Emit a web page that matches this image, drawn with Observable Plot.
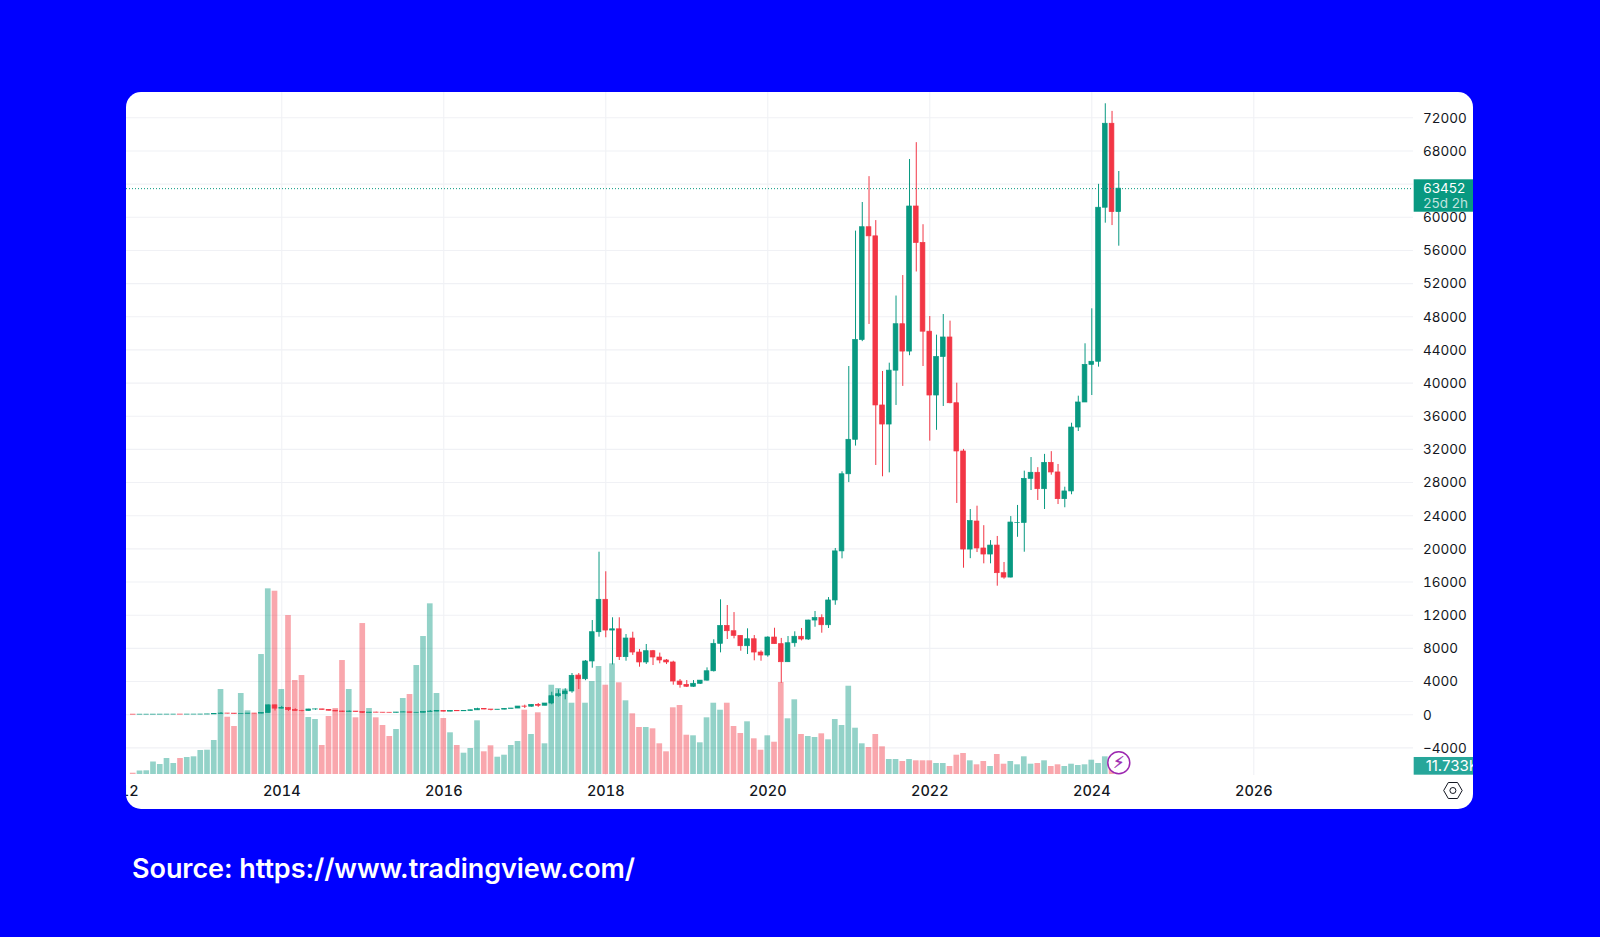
<!DOCTYPE html>
<html><head><meta charset="utf-8">
<script src="https://cdn.jsdelivr.net/npm/d3@7"></script>
<script src="https://cdn.jsdelivr.net/npm/@observablehq/plot@0.6"></script>
<style>
html,body{margin:0;padding:0;width:1600px;height:937px;overflow:hidden;background:#0000FF}
#card{position:absolute;left:126px;top:92px;width:1347px;height:717px;background:#fff;border-radius:15px;overflow:hidden}
#card svg{display:block}
#source{position:absolute;left:132px;top:851px;color:#fff;font:600 27px/36px Inter,sans-serif;white-space:nowrap;letter-spacing:-.06px}
</style></head><body>
<div id="card"></div>
<div id="source">Source: https://www.tradingview.com/</div>
<script>
// first candle is March 2012 (months counted from January 2012)
const firstMonth = 2;
const yearLabels = [2012,2014,2016,2018,2020,2022,2024,2026];
const priceTicks = [-4000,0,4000,8000,12000,16000,20000,24000,28000,32000,36000,40000,44000,48000,52000,56000,60000,64000,68000,72000];
const priceLabelTicks = priceTicks.filter(t => t !== 64000);
const lastPrice = 63452;
const lastPriceLabel = "63452";
const countdownLabel = "25d 2h";
const lastVolumeLabel = "11.733K";

const opens = [
 5.0,4.9,5,5.1,6.6,9.3,10,12.4,11,12.5,
 13.5,20,33,93,139,129,97,106,135,127,198,1130,
 732,800,550,450,445,630,640,585,480,387,338,378,
 320,217,254,244,236,230,263,284,230,236,314,377,
 430,368,437,416,448,531,673,624,575,608,700,745,
 985,965,1190,1080,1350,2230,2470,2800,4690,4280,6420,9950,
 13860,10150,10300,6940,9190,7500,6300,7660,6900,6540,6300,4000,
 3600,3370,3730,4110,5240,8550,10710,10070,9510,8260,9100,7500,
 7140,9310,8510,6330,8620,9400,9070,11360,11650,10790,13780,19700,
 29000,33160,45200,58800,57700,37300,35000,41500,47100,43800,61300,56900,
 46200,38500,43150,45500,37570,31750,19920,23300,20050,19320,20400,17070,
 16540,23130,23130,28450,29180,27200,30380,29220,26000,26930,34640,37660,
 42200,42570,61150,71280,60620];
const highs = [
 5.4,5.4,5.2,6.7,9.6,15,12.8,13,13,13.9,
 22,33.5,100,260,140,130,110,140,148,215,1160,1160,
 1000,850,720,530,650,680,650,600,490,410,450,380,
 320,265,300,260,250,270,315,285,245,330,500,470,
 465,440,440,465,545,780,680,610,620,740,755,990,
 1150,1200,1350,1350,2710,3000,3130,4970,4970,6540,11360,19600,
 17240,11690,11690,9670,9950,7870,8470,7750,7430,6660,6450,4240,
 4120,4120,4110,5650,9040,13860,13170,12320,9550,10360,9550,7700,
 9400,10430,9200,9430,10000,10400,11400,12450,12050,14130,20050,29300,
 42000,58330,61780,64900,59600,41400,42400,50500,52970,66970,69000,59100,
 48030,45780,48270,47470,39990,32000,24750,25150,22800,21000,21500,18360,
 23900,25240,29380,31020,29800,31400,31730,30180,27440,35160,38420,44740,
 48960,63970,73690,72770,65520];
const lows = [
 4.7,4.8,4.9,5.1,6.5,7.5,9.8,10,10.5,12.5,
 13,19,33,60,100,85,65,95,115,120,190,450,
 700,400,440,340,430,530,565,430,370,275,320,295,
 150,210,235,215,225,220,260,195,225,235,315,350,
 350,365,400,415,445,530,600,465,590,600,700,740,
 750,920,890,1060,1200,2110,1800,2590,3040,4100,5610,9350,
 9280,6000,6540,6450,7150,5730,6060,5930,6140,6050,3560,3200,
 3280,3300,3650,4050,5150,7460,9070,9150,7660,7260,6500,6450,
 6940,8500,3800,6300,8140,8900,8950,10550,9830,10400,13200,18800,
 28000,32400,45000,47070,30060,28700,29170,37300,39600,43300,53400,42000,
 33000,34300,37180,37500,25480,17670,18820,19560,18200,18200,15500,16340,
 16500,21400,19600,27040,25840,24750,28890,25350,24960,26530,34160,37700,
 38500,41920,59290,59000,56510];
const closes = [
 4.9,5,5.1,6.6,9.3,10,12.4,11,12.5,13.5,
 20,33,93,139,129,97,106,135,127,198,1130,732,
 800,550,450,445,630,640,585,480,387,338,378,320,
 217,254,244,236,230,263,284,230,236,314,377,430,
 368,437,416,448,531,673,624,575,608,700,745,985,
 965,1190,1080,1350,2230,2470,2800,4690,4280,6420,9950,13860,
 10150,10300,6940,9190,7500,6300,7660,6900,6540,6300,4000,3600,
 3370,3730,4110,5240,8550,10710,10070,9510,8260,9100,7500,7140,
 9310,8510,6330,8620,9400,9070,11360,11650,10790,13780,19700,29000,
 33160,45200,58800,57700,37300,35000,41500,47100,43800,61300,56900,46200,
 38500,43150,45500,37570,31750,19920,23350,20050,19320,20400,17070,16540,
 23180,23140,28450,29180,27200,30380,29220,26000,26930,34640,37660,42200,
 42570,61150,71280,60620,63452];
// volume in thousands
const volumes = [
 1.3,3.5,3.7,12.5,10,16,11,16,17,17.7,
 24,24.3,34,85,57.3,48,81,63.7,60.7,120,185.7,183.3,
 85,159,94,99,57,55,29,58,66,114,85,56.7,
 151,66,56.7,49,38,45,76,80,109,138,170.7,81,
 56,41.7,29,21.3,26,53.7,22.7,28.7,17.3,19.3,29,33,
 64.3,40,61.7,30.7,89.3,86,85.3,71.3,99.7,71.3,93,108,
 89.3,110.7,91.7,73.7,60.7,47,47,45.7,30.7,22.7,66.7,69,
 39.3,38.7,31.7,56.7,71.3,64.3,71.3,48,41,52.7,35.7,24.3,
 38.7,32.3,92,55.7,74.7,40,38,37,40.7,34.7,55,49,
 88.3,46.3,30.7,27,40,27.7,15,15,13,15,13.7,13.7,
 13.7,11,11,8,19.3,21,13.7,9.7,13,8,20,10.3,
 13,9.7,17.7,10.3,11,13.7,8,9.7,8,10.3,9,9.7,
 14.3,11,17.7,10,11.733];

const rows = closes.map((c,i)=>({m:firstMonth+i,open:opens[i],high:highs[i],low:lows[i],close:c,vol:volumes[i],dir:c>=opens[i]?"up":"down"}));

const green="#089981", red="#F23645", ink="#131722", grid="#F0F1F5";
const xMin=1.0, xMax=191.66, xTagEnd=200.6;
const yMin=-7333, yMax=75050;
const volFloor=-7213, volUnit=120.6;
const yearToMonth=y=>(y-2012)*12;
const fmtPrice=d=>d<0?"\u2212"+Math.abs(d):String(d);

const chart = Plot.plot({
  width:1347,height:717,marginLeft:0,marginRight:60,marginTop:0,marginBottom:34,
  style:{background:"transparent",fontFamily:"Inter, sans-serif",fontSize:"13.5px",color:ink},
  x:{type:"linear",domain:[xMin,xMax],label:null},
  y:{domain:[yMin,yMax],label:null},
  color:{domain:["up","down"],range:[green,red]},
  marks:[
    Plot.ruleY(priceTicks,{stroke:grid,strokeWidth:1.1}),
    Plot.ruleX(yearLabels.map(yearToMonth).filter(m=>m>xMin),{stroke:grid,strokeWidth:1.1}),
    Plot.rect(rows,{x1:d=>d.m-0.42,x2:d=>d.m+0.42,y1:volFloor,y2:d=>volFloor+d.vol*volUnit,fill:"dir",fillOpacity:.44}),
    Plot.ruleX(rows,{x:"m",y1:"low",y2:"high",stroke:"dir",strokeWidth:1}),
    Plot.rect(rows,{x1:d=>d.m-0.35,x2:d=>d.m+0.35,y1:"open",y2:"close",fill:"dir",stroke:"dir",strokeWidth:.7}),
    Plot.ruleY([lastPrice],{stroke:green,strokeWidth:1,strokeDasharray:"1 2"}),
    Plot.axisX({anchor:"bottom",ticks:yearLabels.map(yearToMonth),tickFormat:m=>String(2012+m/12),tickSize:0,tickPadding:10,fontSize:14.5,fontWeight:500,fill:ink,letterSpacing:".4px",label:null}),
    Plot.axisY({anchor:"right",ticks:priceLabelTicks,tickFormat:fmtPrice,tickSize:0,tickPadding:9.5,dy:.5,fontSize:13.5,fill:ink,label:null}),
    Plot.rect([0],{x1:xMax+0.1,x2:xTagEnd,y1:60610,y2:64520,fill:green}),
    Plot.text([lastPriceLabel],{x:xMax+1.45,y:63390,text:d=>d,textAnchor:"start",fill:"#fff",fontSize:13.5}),
    Plot.text([countdownLabel],{x:xMax+1.45,y:61680,text:d=>d,textAnchor:"start",fill:"#fff",fillOpacity:.75,fontSize:13.5}),
    Plot.rect([0],{x1:xMax+0.1,x2:xTagEnd,y1:-7295,y2:-5160,fill:"#26A69A"}),
    Plot.text([lastVolumeLabel],{x:xMax+1.8,y:-6250,text:d=>d,textAnchor:"start",fill:"#fff",fontSize:15}),
    Plot.dot([0],{x:148.0,y:-5790,r:11,fill:"#fff",stroke:"#9C27B0",strokeWidth:1.5}),
    Plot.text(["\u26A1"],{x:148.0,y:-5790,text:d=>d,fill:"#9C27B0",stroke:"#9C27B0",strokeWidth:.4,fontSize:16,fontFamily:"DejaVu Sans"}),
    Plot.dot([0],{x:197.5,y:-9143,r:8,symbol:"hexagon",fill:"none",stroke:ink,strokeWidth:1,rotate:90}),
    Plot.dot([0],{x:197.5,y:-9143,r:3,fill:"none",stroke:ink,strokeWidth:1})
  ]
});
document.getElementById("card").appendChild(chart);
</script>
</body></html>
